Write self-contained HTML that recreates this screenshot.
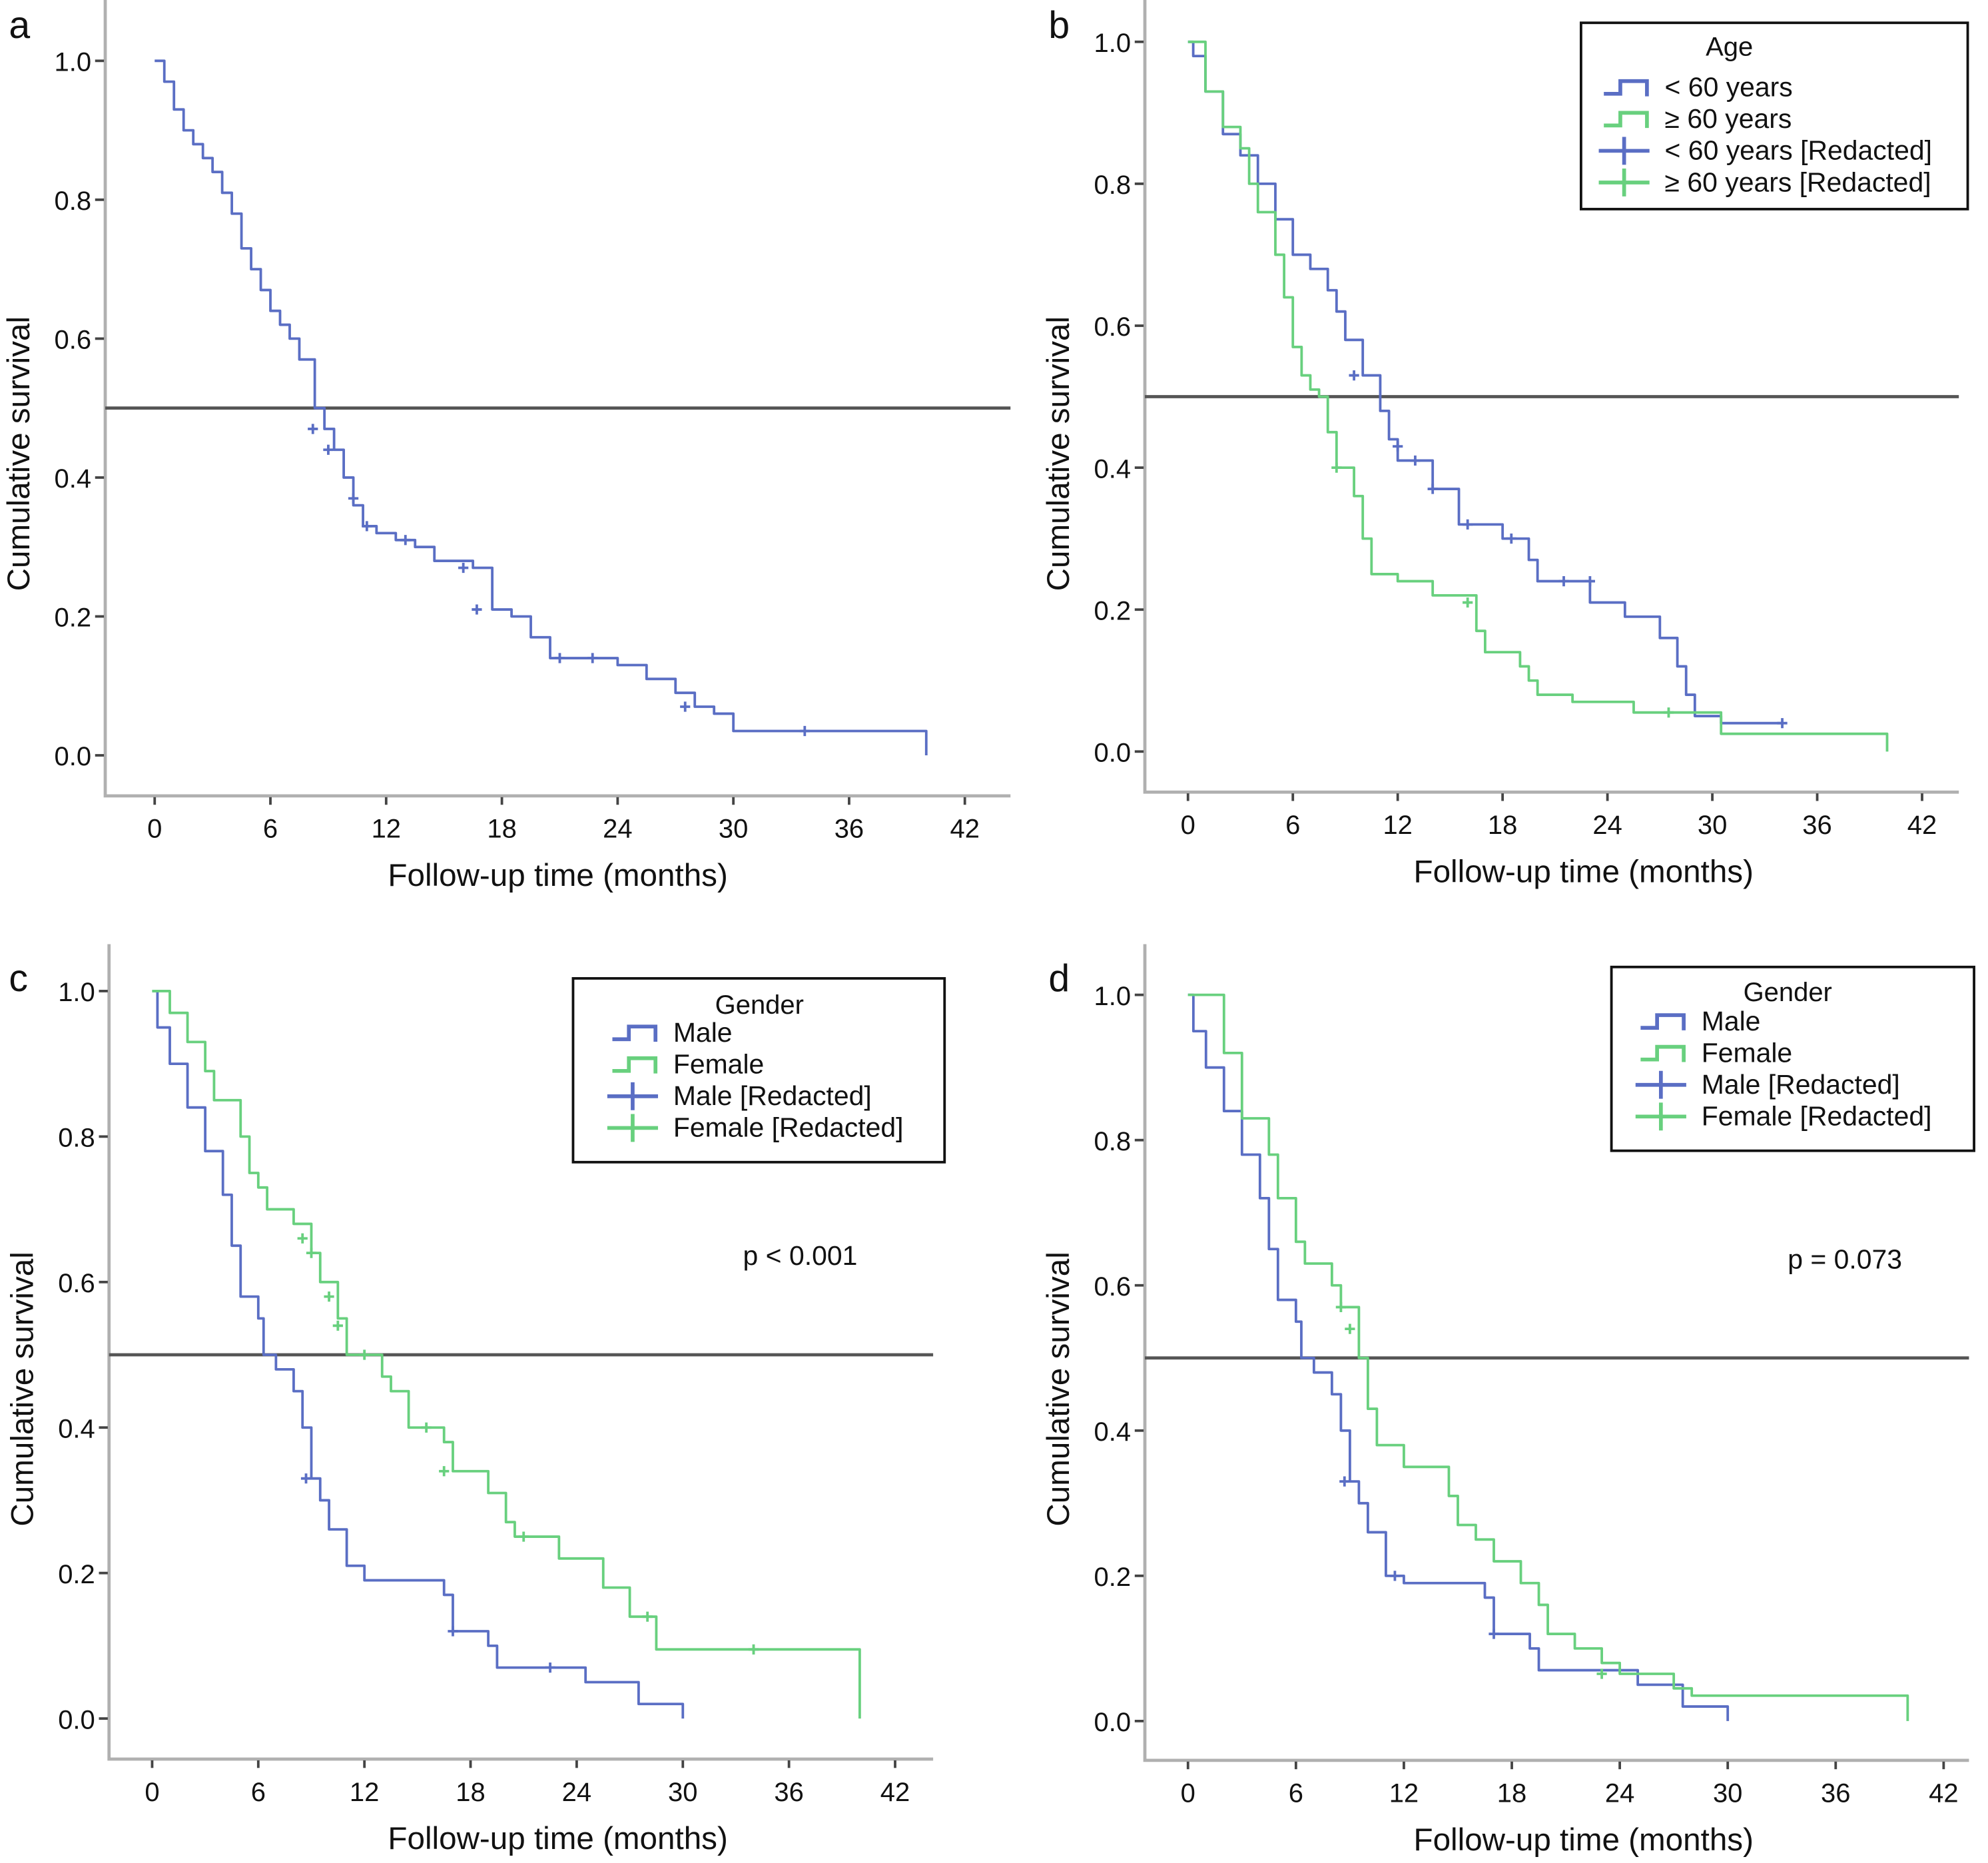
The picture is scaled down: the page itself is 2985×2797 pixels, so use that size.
<!DOCTYPE html>
<html><head><meta charset="utf-8"><style>
html,body{margin:0;padding:0;background:#fff;}
svg{display:block;font-family:"Liberation Sans",Arial,sans-serif;}
</style></head><body>
<svg id="fig" width="2985" height="2797" viewBox="0 0 1568 1470" preserveAspectRatio="none" xmlns="http://www.w3.org/2000/svg">
<rect width="1568" height="1470" fill="#fff"/>
</svg>
<script>
// ---- Panel a: overall ----
const aTimes = [0,0.5,1,1.5,2,2.5,3,3.5,4,4.5,5,5.5,6,6.5,7,7.5,8,8.3,8.8,9.3,9.8,10.3,10.8,11.5,12.5,13.5,14.5,16.5,17.5,18.5,19.5,20.5,23,24,25.5,27,28,29,30,40];
const aSurv  = [1.0,0.97,0.93,0.90,0.88,0.86,0.84,0.81,0.78,0.73,0.70,0.67,0.64,0.62,0.60,0.57,0.57,0.50,0.47,0.44,0.40,0.36,0.33,0.32,0.31,0.30,0.28,0.27,0.21,0.20,0.17,0.14,0.14,0.13,0.11,0.09,0.07,0.06,0.035,0.0];
const aCensT = [8.2,9,10.3,11,13,16,16.7,21,22.7,27.5,33.7];
const aCensS = [0.47,0.44,0.37,0.33,0.31,0.27,0.21,0.14,0.14,0.07,0.035];
// ---- Panel b: age ----
const bBlueT = [0,0.3,1,2,3,4,5,6,7,8,8.5,9,10,11,11.5,12,14,15.5,18,19.5,20,23,25,27,28,28.5,29,30.5,34];
const bBlueS = [1.0,0.98,0.93,0.87,0.84,0.80,0.75,0.70,0.68,0.65,0.62,0.58,0.53,0.48,0.44,0.41,0.37,0.32,0.30,0.27,0.24,0.21,0.19,0.16,0.12,0.08,0.05,0.04,0.04];
const bGreenT = [0,1,2,3,3.5,4,5,5.5,6,6.5,7,7.5,8,8.5,9.5,10,10.5,12,14,16.5,17,19,19.5,20,22,25.5,30.5,40];
const bGreenS = [1.0,0.93,0.88,0.85,0.80,0.76,0.70,0.64,0.57,0.53,0.51,0.50,0.45,0.40,0.36,0.30,0.25,0.24,0.22,0.17,0.14,0.12,0.10,0.08,0.07,0.055,0.025,0.0];
const bBlueCensT = [9.5,12,13,14,16,18.5,21.5,23,34];
const bBlueCensS = [0.53,0.43,0.41,0.37,0.32,0.30,0.24,0.24,0.04];
const bGreenCensT = [8.5,16,27.5];
const bGreenCensS = [0.40,0.21,0.055];
// ---- Panel c: gender ----
const cBlueT = [0,0.3,1,2,3,4,4.5,5,6,6.3,7,8,8.5,9,9.5,10,11,12,16.5,17,19,19.5,24.5,27.5,30];
const cBlueS = [1.0,0.95,0.90,0.84,0.78,0.72,0.65,0.58,0.55,0.50,0.48,0.45,0.40,0.33,0.30,0.26,0.21,0.19,0.17,0.12,0.10,0.07,0.05,0.02,0.0];
const cGreenT = [0,1,2,3,3.5,5,5.5,6,6.5,8,9,9.5,10.5,11,13,13.5,14.5,16.5,17,19,20,20.5,23,25.5,27,28.5,40];
const cGreenS = [1.0,0.97,0.93,0.89,0.85,0.80,0.75,0.73,0.70,0.68,0.64,0.60,0.55,0.50,0.47,0.45,0.40,0.38,0.34,0.31,0.27,0.25,0.22,0.18,0.14,0.095,0.0];
const cBlueCensT = [8.7,17,22.5];
const cBlueCensS = [0.33,0.12,0.07];
const cGreenCensT = [8.5,9,10,10.5,12,15.5,16.5,21,28,34];
const cGreenCensS = [0.66,0.64,0.58,0.54,0.50,0.40,0.34,0.25,0.14,0.095];
// ---- Panel d: gender ----
const dBlueT = [0,0.3,1,2,3,4,4.5,5,6,6.3,7,8,8.5,9,9.5,10,11,12,16.5,17,19,19.5,25,27.5,30];
const dBlueS = [1.0,0.95,0.90,0.84,0.78,0.72,0.65,0.58,0.55,0.50,0.48,0.45,0.40,0.33,0.30,0.26,0.20,0.19,0.17,0.12,0.10,0.07,0.05,0.02,0.0];
const dGreenT = [0,1.8,2,3,4.5,5,6,6.5,8,8.5,9.5,10,10.5,12,14.5,15,16,17,18.5,19.5,20,21.5,23,24,27,28,40];
const dGreenS = [1.0,1.0,0.92,0.83,0.78,0.72,0.66,0.63,0.60,0.57,0.50,0.43,0.38,0.35,0.31,0.27,0.25,0.22,0.19,0.16,0.12,0.10,0.08,0.065,0.045,0.035,0.0];
const dBlueCensT = [8.7,11.5,17];
const dBlueCensS = [0.33,0.20,0.12];
const dGreenCensT = [8.5,9,23];
const dGreenCensS = [0.57,0.54,0.065];
const xTicks = [0,6,12,18,24,30,36,42];
const yTicks = [0,0.2,0.4,0.6,0.8,1.0];
const yTickLabels = ["0.0","0.2","0.4","0.6","0.8","1.0"];

const NS = "http://www.w3.org/2000/svg";
const svg = document.getElementById('fig');
const BLUE = "#5a6ec4", GREEN = "#68d07e";
function mk(tag, attrs, parent){
  const e = document.createElementNS(NS, tag);
  for (const k in attrs) e.setAttribute(k, attrs[k]);
  (parent||svg).appendChild(e);
  return e;
}
function panel(p){
  const g = mk('g', {});
  
  
  const xs = t => p.x0 + (p.x42 - p.x0) * t / 42;
  const ys = s => p.y0 + (p.y1 - p.y0) * s;
  const ax = mk('path', {d:`M${p.left},${p.top} V${p.bottom} H${p.right}`, fill:'none', stroke:'#b0b0b0', 'stroke-width':2.5}, g);
  
  
  xTicks.forEach(t => {
    mk('line', {x1:xs(t), x2:xs(t), y1:p.bottom+1, y2:p.bottom+7, stroke:'#444', 'stroke-width':2}, g);
    const tx = mk('text', {x:xs(t), y:p.bottom+33, 'font-size':21, 'text-anchor':'middle', fill:'#111'}, g);
    tx.textContent = t;
    
    
  });
  yTicks.forEach((v,i) => {
    mk('line', {x1:p.left-8, x2:p.left-1, y1:ys(v), y2:ys(v), stroke:'#444', 'stroke-width':2}, g);
    const tx = mk('text', {x:p.left-11, y:ys(v)+8, 'font-size':21, 'text-anchor':'end', fill:'#111'}, g);
    tx.textContent = yTickLabels[i];
    
    
  });
  const xt = mk('text', {x:p.xtX, y:p.bottom+71, 'font-size':25, 'text-anchor':'middle', fill:'#111'}, g);
  xt.textContent = 'Follow-up time (months)';
  
  
  const yt = mk('text', {x:0, y:0, 'font-size':25, 'text-anchor':'middle', fill:'#111', transform:`translate(${p.left-60},${p.ytY}) rotate(-90)`}, g);
  yt.textContent = 'Cumulative survival';
  
  
  const lt = mk('text', {x:p.letterX, y:p.letterY, 'font-size':30, fill:'#111'}, g);
  lt.textContent = p.id;
  
  
  const ml = mk('line', {x1:p.left, x2:p.right, y1:ys(0.5), y2:ys(0.5), stroke:'#555', 'stroke-width':2.5}, g);
  
  
  p.series.forEach(se => {
    let d = `M${xs(se.t[0])},${ys(se.s[0])}`;
    for (let i=1;i<se.t.length;i++){ d += ` H${xs(se.t[i])} V${ys(se.s[i])}`; }
    const path = mk('path', {d, fill:'none', stroke:se.color, 'stroke-width':2, 'stroke-linejoin':'round'}, g);
    
    
    se.ct.forEach((t,i) => {
      const c = mk('path', {d:`M${xs(t)-4},${ys(se.cs[i])} h8 M${xs(t)},${ys(se.cs[i])-4} v8`, stroke:se.color, 'stroke-width':2}, g);
      
      
    });
  });
  return g;
}
panel({id:'a', x0:122, x42:761, y0:596, y1:48, left:83, right:797, top:0, bottom:628, xtX:440, ytY:358, letterX:7, letterY:30,
  series:[{name:'overall', color:BLUE, t:aTimes, s:aSurv, ct:aCensT, cs:aCensS}]});
panel({id:'b', x0:937, x42:1516, y0:593, y1:33, left:903, right:1545, top:0, bottom:625, xtX:1249, ytY:358, letterX:827, letterY:30,
  series:[{name:'under-60', color:BLUE, t:bBlueT, s:bBlueS, ct:bBlueCensT, cs:bBlueCensS},
          {name:'over-60', color:GREEN, t:bGreenT, s:bGreenS, ct:bGreenCensT, cs:bGreenCensS}]});
panel({id:'c', x0:120, x42:706, y0:1356, y1:782, left:86, right:736, top:745, bottom:1388, xtX:440, ytY:1096, letterX:7, letterY:782,
  series:[{name:'male', color:BLUE, t:cBlueT, s:cBlueS, ct:cBlueCensT, cs:cBlueCensS},
          {name:'female', color:GREEN, t:cGreenT, s:cGreenS, ct:cGreenCensT, cs:cGreenCensS}]});
panel({id:'d', x0:937, x42:1533, y0:1358, y1:785, left:903, right:1553, top:745, bottom:1389, xtX:1249, ytY:1096, letterX:827, letterY:782,
  series:[{name:'male', color:BLUE, t:dBlueT, s:dBlueS, ct:dBlueCensT, cs:dBlueCensS},
          {name:'female', color:GREEN, t:dGreenT, s:dGreenS, ct:dGreenCensT, cs:dGreenCensS}]});

function legend(id, x, y, w, h, title, labels, titleX, titleY, rowY0, textX){
  const g = mk('g', {});
  
  
  mk('rect', {x, y, width:w, height:h, fill:'#fff', stroke:'#111', 'stroke-width':2}, g);
  const tt = mk('text', {x:titleX, y:titleY, 'font-size':21, 'text-anchor':'middle', fill:'#111'}, g);
  tt.textContent = title;
  
  
  [0,1,2,3].forEach(i => {
    const cy = rowY0 + i*25;
    const col = (i%2===0) ? BLUE : GREEN;
    const sx = textX - 48;
    if (i<2) mk('path', {d:`M${sx},${cy+5} h13 v-10 h21 v12`, fill:'none', stroke:col, 'stroke-width':3}, g);
    else mk('path', {d:`M${sx-4},${cy} h40 M${sx+16},${cy-11} v22`, fill:'none', stroke:col, 'stroke-width':3}, g);
    const t = mk('text', {x:textX, y:cy+7, 'font-size':21.5, fill:'#111'}, g);
    t.textContent = labels[i];
    
    
  });
}
legend('b', 1247, 18, 305, 147, 'Age', ['< 60 years','\u2265 60 years','< 60 years [Redacted]','\u2265 60 years [Redacted]'], 1364, 44, 69, 1313);
legend('c', 452, 772, 293, 145, 'Gender', ['Male','Female','Male [Redacted]','Female [Redacted]'], 599, 800, 815, 531);
legend('d', 1271, 763, 286, 145, 'Gender', ['Male','Female','Male [Redacted]','Female [Redacted]'], 1410, 790, 806, 1342);

const p1 = mk('text', {x:586, y:998, 'font-size':21.5, fill:'#111'});
p1.textContent = 'p < 0.001';


const p2 = mk('text', {x:1410, y:1001, 'font-size':21.5, fill:'#111'});
p2.textContent = 'p = 0.073';


</script>
</body></html>
